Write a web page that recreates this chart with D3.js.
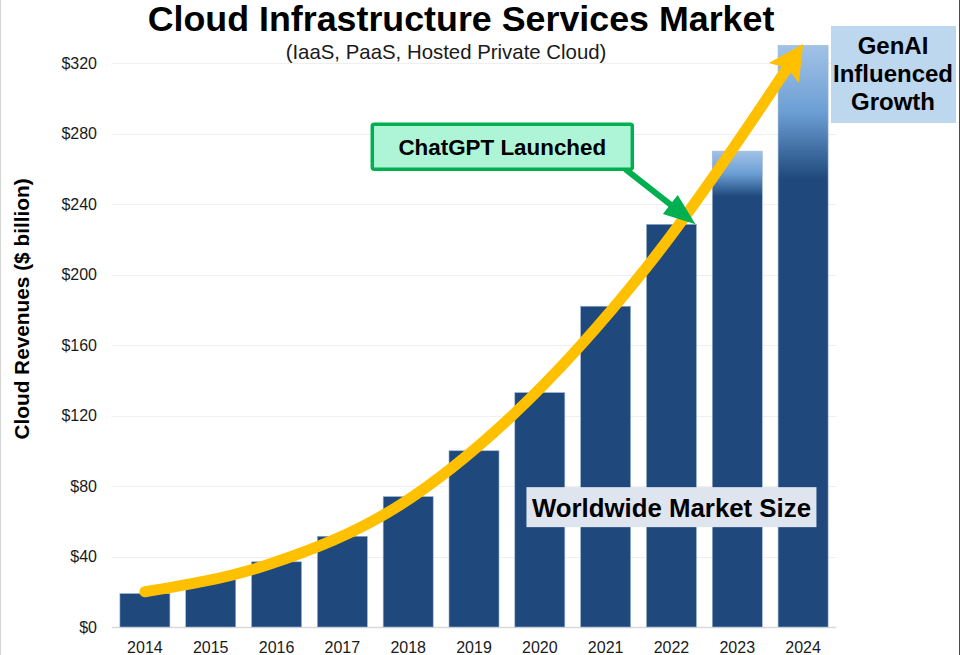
<!DOCTYPE html>
<html>
<head>
<meta charset="utf-8">
<script src="https://cdn.jsdelivr.net/npm/d3@7"></script>
<style>
  html, body { margin: 0; padding: 0; background: #fff; }
  svg { display: block; font-family: Arial, "Liberation Sans", sans-serif; }
</style>
</head>
<body>
<div id="chart"></div>
<script>
// Data
var years = ["2014", "2015", "2016", "2017", "2018", "2019", "2020", "2021", "2022", "2023", "2024"];
var revenues = [19, 27, 37, 51.5, 74, 100, 133, 182, 228.5, 270, 330];
var yTicks = [0, 40, 80, 120, 160, 200, 240, 280, 320];

// trend arrow drawn over the bars: [year index, $ billion]
var trendPoints = [[0, 20], [1.854, 35.2], [3.874, 69.2], [5.591, 120.3], [7.627, 204.3], [9.708, 314.3]];
var trendTip = [10, 330.8];

var width = 960, height = 655;
var navy = "#1f497d";

var svg = d3.select("#chart").append("svg")
  .attr("width", width)
  .attr("height", height);

var defs = svg.append("defs");

// gradients for the GenAI years (top of bar fades lighter)
var fades = {
  "2023": [[0, "#a2c2e6"], [0.047, "#6c9fd5"], [0.095, navy]],
  "2024": [[0, "#a2c2e6"], [0.114, "#6c9fd5"], [0.23, navy]]
};
Object.keys(fades).forEach(function (yr) {
  var g = defs.append("linearGradient")
    .attr("id", "fade" + yr)
    .attr("x1", 0).attr("y1", 0).attr("x2", 0).attr("y2", 1);
  fades[yr].forEach(function (s) {
    g.append("stop").attr("offset", s[0]).attr("stop-color", s[1]);
  });
});

// Scales
var x = d3.scaleBand()
  .domain(years)
  .range([112, 836])
  .paddingInner(0.24)
  .paddingOuter(0.12);

var y = d3.scaleLinear()
  .domain([0, 320])
  .range([627, 63]);

var bw = x.bandwidth();
var xi = d3.scaleLinear()
  .domain([0, years.length - 1])
  .range([x(years[0]) + bw / 2, x(years[years.length - 1]) + bw / 2]);

// frame edges
svg.append("line").attr("x1", 0.5).attr("x2", 0.5).attr("y1", 0).attr("y2", height)
  .attr("stroke", "#d4d4d4").attr("stroke-width", 1);
svg.append("line").attr("x1", width - 0.5).attr("x2", width - 0.5).attr("y1", 0).attr("y2", height)
  .attr("stroke", "#4a4a4a").attr("stroke-width", 1);

// Gridlines
svg.append("g")
  .selectAll("line")
  .data(yTicks)
  .enter().append("line")
  .attr("x1", 112).attr("x2", 836)
  .attr("y1", function (d) { return Math.round(y(d)) + 0.5; })
  .attr("y2", function (d) { return Math.round(y(d)) + 0.5; })
  .attr("stroke", function (d) { return d === 0 ? "#d9d9d9" : "#efefef"; })
  .attr("stroke-width", function (d) { return d === 0 ? 1.5 : 1; });

// Y axis labels
svg.append("g")
  .selectAll("text")
  .data(yTicks)
  .enter().append("text")
  .attr("x", 97)
  .attr("y", function (d) { return y(d); })
  .attr("dy", "0.36em")
  .attr("text-anchor", "end")
  .attr("font-size", 16)
  .attr("fill", "#1a1a1a")
  .text(function (d) { return "$" + d; });

// X axis labels
svg.append("g")
  .selectAll("text")
  .data(years)
  .enter().append("text")
  .attr("x", function (d) { return x(d) + bw / 2; })
  .attr("y", 653)
  .attr("text-anchor", "middle")
  .attr("font-size", 16)
  .attr("fill", "#1a1a1a")
  .text(function (d) { return d; });

// Bars
svg.append("g")
  .selectAll("rect")
  .data(years)
  .enter().append("rect")
  .attr("x", function (d) { return x(d); })
  .attr("width", bw)
  .attr("y", function (d, i) { return y(revenues[i]); })
  .attr("height", function (d, i) { return y(0) - y(revenues[i]); })
  .attr("fill", function (d) { return fades[d] ? "url(#fade" + d + ")" : navy; })
  .attr("stroke", "#9fb6d2")
  .attr("stroke-width", 0.6);

// Worldwide Market Size label box (centred on 2022 bar)
var wmX = x("2022") + bw / 2, wmY = y(68);
svg.append("rect")
  .attr("x", wmX - 145).attr("y", wmY - 20)
  .attr("width", 290).attr("height", 40)
  .attr("fill", "#dfe5ee");
svg.append("text")
  .attr("x", wmX).attr("y", wmY + 9.5)
  .attr("text-anchor", "middle")
  .attr("font-size", 25.8).attr("font-weight", "bold")
  .attr("fill", "#000")
  .text("Worldwide Market Size");

// Yellow trend arrow
var tp = trendPoints.map(function (p) { return [xi(p[0]), y(p[1])]; });
var tip = [xi(trendTip[0]), y(trendTip[1])];
var line = d3.line().curve(d3.curveMonotoneX);

function arrowHead(base, tipPt, halfW, notch) {
  var dx = tipPt[0] - base[0], dy = tipPt[1] - base[1];
  var len = Math.sqrt(dx * dx + dy * dy);
  var ux = dx / len, uy = dy / len;
  var px = -uy, py = ux;
  return [
    tipPt,
    [base[0] + px * halfW, base[1] + py * halfW],
    [base[0] + ux * notch, base[1] + uy * notch],
    [base[0] - px * halfW, base[1] - py * halfW]
  ];
}

var last = tp[tp.length - 1];
svg.append("path")
  .attr("d", line(tp.concat([[last[0] + (tip[0] - last[0]) * 0.3, last[1] + (tip[1] - last[1]) * 0.3]])))
  .attr("fill", "none")
  .attr("stroke", "#ffc000")
  .attr("stroke-width", 11)
  .attr("stroke-linecap", "round");

svg.append("polygon")
  .attr("points", arrowHead(last, tip, 18, 6).map(function (p) { return p.join(","); }).join(" "))
  .attr("fill", "#ffc000");

// ChatGPT Launched callout
var cbX = xi(5.43), cbY = y(272.5), cbW = 260, cbH = 45;
var gStart = [cbX + cbW / 2 - 7, cbY + cbH / 2];
var gTip = [x("2022") + bw - 1, y(revenues[8])];
var gdx = gTip[0] - gStart[0], gdy = gTip[1] - gStart[1];
var glen = Math.sqrt(gdx * gdx + gdy * gdy);
var gBase = [gTip[0] - gdx / glen * 32, gTip[1] - gdy / glen * 32];

svg.append("line")
  .attr("x1", gStart[0]).attr("y1", gStart[1])
  .attr("x2", gBase[0] + gdx / glen * 4).attr("y2", gBase[1] + gdy / glen * 4)
  .attr("stroke", "#00b050")
  .attr("stroke-width", 6);
svg.append("polygon")
  .attr("points", arrowHead(gBase, gTip, 12, 0).map(function (p) { return p.join(","); }).join(" "))
  .attr("fill", "#00b050");

svg.append("rect")
  .attr("x", cbX - cbW / 2).attr("y", cbY - cbH / 2)
  .attr("width", cbW).attr("height", cbH)
  .attr("rx", 2)
  .attr("fill", "#adf5d6")
  .attr("stroke", "#00b050")
  .attr("stroke-width", 3.5);
svg.append("text")
  .attr("x", cbX).attr("y", cbY + 8)
  .attr("text-anchor", "middle")
  .attr("font-size", 22.4).attr("font-weight", "bold")
  .attr("fill", "#000")
  .text("ChatGPT Launched");

// GenAI Influenced Growth box (right of plot)
svg.append("rect")
  .attr("x", 831).attr("y", 26)
  .attr("width", 125).attr("height", 97)
  .attr("fill", "#bdd7ee");
svg.append("text")
  .attr("x", 893)
  .attr("text-anchor", "middle")
  .attr("font-size", 24).attr("font-weight", "bold")
  .attr("fill", "#000")
  .selectAll("tspan")
  .data(["GenAI", "Influenced", "Growth"])
  .enter().append("tspan")
  .attr("x", 893)
  .attr("y", function (d, i) { return 54 + i * 28; })
  .text(function (d) { return d; });

// Titles
svg.append("text")
  .attr("x", 461).attr("y", 31)
  .attr("text-anchor", "middle")
  .attr("font-size", 35.8).attr("font-weight", "bold")
  .attr("fill", "#000")
  .text("Cloud Infrastructure Services Market");

svg.append("text")
  .attr("x", 446).attr("y", 59)
  .attr("text-anchor", "middle")
  .attr("font-size", 20.4)
  .attr("fill", "#1a1a1a")
  .text("(IaaS, PaaS, Hosted Private Cloud)");

svg.append("text")
  .attr("transform", "translate(29,309) rotate(-90)")
  .attr("text-anchor", "middle")
  .attr("font-size", 20.8).attr("font-weight", "bold")
  .attr("fill", "#000")
  .text("Cloud Revenues ($ billion)");
</script>
</body>
</html>
